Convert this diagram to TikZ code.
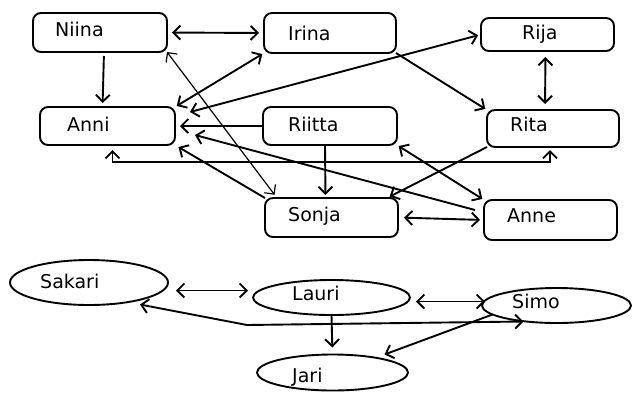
\documentclass[tikz,border=0pt]{standalone}
\usepackage{fontspec}
\setmainfont{DejaVu Sans}
\usetikzlibrary{arrows.meta,shapes.geometric}
\begin{document}
\begin{tikzpicture}[x=1pt,y=-1pt,
  box/.style={draw, line width=1.9pt, rounded corners=8pt, outer sep=0pt, inner sep=0pt},
  oval/.style={draw, ellipse, line width=1.9pt, outer sep=0pt, inner sep=0pt},
  lbl/.style={anchor=west, inner sep=0pt, text height=13.5pt, text depth=0pt, font=\fontsize{19}{21}\selectfont},
  ar/.style={line width=1.9pt, -{Straight Barb[length=7pt,width=14pt]}},
  dar/.style={line width=1.9pt, {Straight Barb[length=7pt,width=14pt]}-{Straight Barb[length=7pt,width=14pt]}},
  thinline/.style={line width=1.2pt}
]
\useasboundingbox (0,0) rectangle (632,392);
% boxes
\node[box, minimum width=134pt, minimum height=39pt] (Niina) at (100,32.5) {};
\node[box, minimum width=132pt, minimum height=40pt] (Irina) at (330,33) {};
\node[box, minimum width=133pt, minimum height=33pt] (Rija) at (547.5,34.5) {};
\node[box, minimum width=135pt, minimum height=38pt] (Anni) at (107.5,126) {};
\node[box, minimum width=134pt, minimum height=38pt] (Riitta) at (330,126) {};
\node[box, minimum width=132pt, minimum height=37pt] (Rita) at (553,128.5) {};
\node[box, minimum width=133pt, minimum height=39pt] (Sonja) at (331.5,217.5) {};
\node[box, minimum width=133pt, minimum height=40pt] (Anne) at (550.5,220) {};
% ellipses
\node[oval, minimum width=158pt, minimum height=45pt] (Sakari) at (89,282.5) {};
\node[oval, minimum width=157pt, minimum height=35pt] (Lauri) at (331.5,297.5) {};
\node[oval, minimum width=149pt, minimum height=35pt] (Simo) at (556.5,305.5) {};
\node[oval, minimum width=151pt, minimum height=36pt] (Jari) at (332.5,372.5) {};
% labels
\node[lbl] (tNiina) at (55,30) {Niina};
\node[lbl] (tIrina) at (288,34) {Irina};
\node[lbl] (tRija) at (522,33) {Rija};
\node[lbl] (tAnni) at (67,125) {Anni};
\node[lbl] (tRiitta) at (288,125) {Riitta};
\node[lbl] (tRita) at (510,125) {Rita};
\node[lbl] (tSonja) at (288,215) {Sonja};
\node[lbl] (tAnne) at (507,216) {Anne};
\node[lbl] (tSakari) at (40,282) {Sakari};
\node[lbl] (tLauri) at (292,294) {Lauri};
\node[lbl] (tSimo) at (512,302) {Simo};
\node[lbl] (tJari) at (292,376) {Jari};
% upper connectors
\draw[dar, shorten <=5pt, shorten >=5pt] (Niina.east) -- (Irina.west);
\draw[ar, shorten <=4pt, shorten >=4pt] ([xshift=4pt]Niina.south) -- ([xshift=-5pt]Anni.north);
\draw[dar, shorten <=2pt, shorten >=2pt] (Irina.south west) -- (Anni.north east);
\draw[dar, shorten <=3pt] (Rija.west) -- ([shift={(15,5)}]Anni.north east);
\draw[ar, shorten >=2pt] (Irina.south east) -- (Rita.north west);
\draw[dar, shorten <=6pt, shorten >=6pt] ([xshift=-2pt]Rija.south) -- ([xshift=-8pt]Rita.north);
\draw[ar, shorten >=5pt] (Riitta.west) -- (Anni.east);
\coordinate (e1) at (300,162);
\draw[dar, shorten <=5pt, shorten >=3pt] ([xshift=5pt]Anni.south) |- (e1) -| ([xshift=-3pt]Rita.south);
\draw[dar, thinline, shorten >=4pt] (Niina.south east) -- ([xshift=12pt]Sonja.north west);
\draw[ar, shorten >=3pt] ([xshift=-5pt]Riitta.south) -- ([xshift=-6pt]Sonja.north);
\draw[ar, shorten >=4pt] (Sonja.north west) -- (Anni.south east);
\draw[ar] ([shift={(-9,-10)}]Anne.west) -- ([shift={(20,9)}]Anni.east);
\draw[ar, shorten >=3pt] (Rita.south west) -- ([xshift=-11pt]Sonja.north east);
\draw[dar, shorten <=2pt, shorten >=2pt] (Riitta.south east) -- (Anne.north west);
\draw[dar, shorten <=6pt, shorten >=4pt] (Sonja.east) -- (Anne.west);
% lower connectors
\draw[dar] ([shift={(8,8)}]Sakari.east) -- ([shift={(-5,-7)}]Lauri.west);
\draw[dar] ([shift={(6,4)}]Lauri.east) -- ([shift={(3,-4)}]Simo.west);
\draw[ar, shorten >=7pt] (Lauri.south) -- (Jari.north);
\draw[ar] (Simo.188) -- ([xshift=52pt]Jari.north);
\coordinate (e2) at (247,325);
\draw[dar] ([shift={(51,22)}]Sakari.center) -- (e2) -- ([shift={(-33,16)}]Simo.center);
\end{tikzpicture}
\end{document}
